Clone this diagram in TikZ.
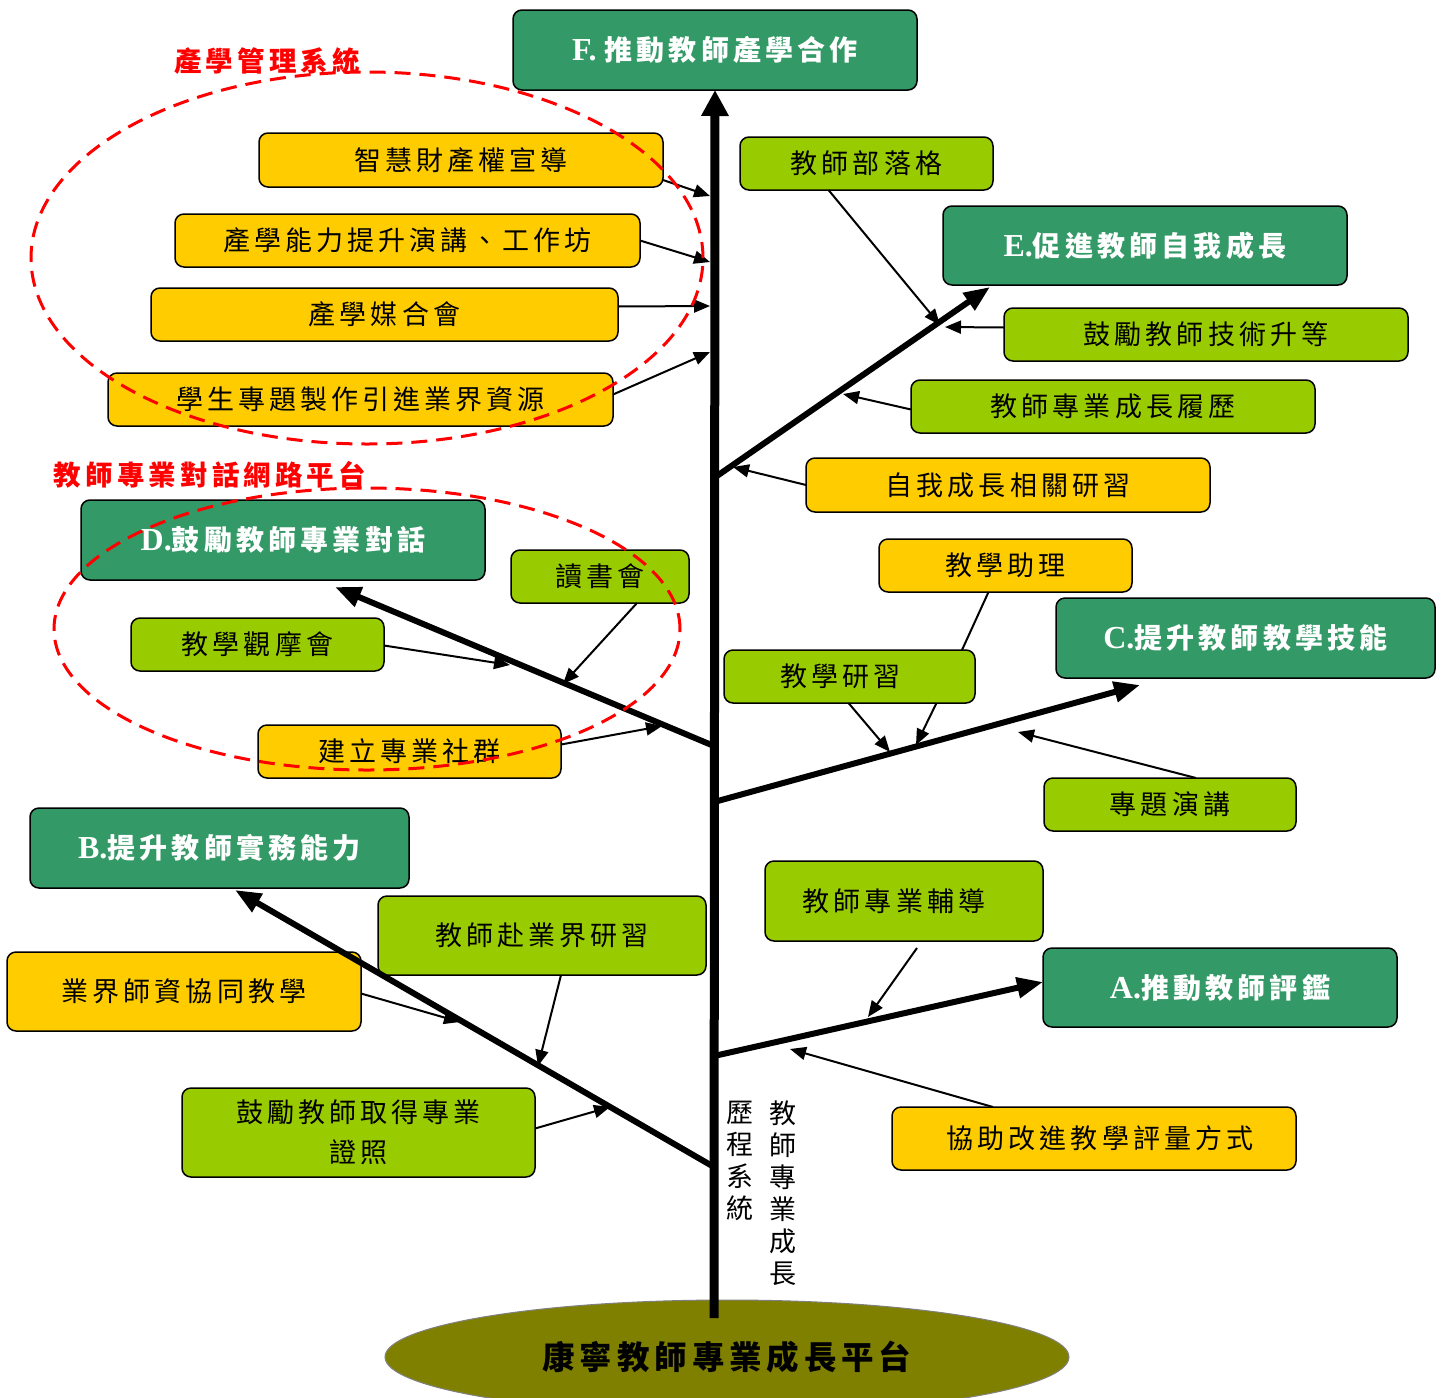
\documentclass[tikz,border=0pt]{standalone}
\usepackage{fontspec}
\setmainfont{Liberation Serif}
\newfontfamily\cjk[LetterSpace=15]{Noto Sans CJK TC}
\newfontfamily\cjkv{Noto Sans CJK TC}
\usetikzlibrary{arrows.meta,shapes.geometric}
\definecolor{dgreen}{RGB}{51,153,102}
\definecolor{lgreen}{RGB}{153,204,0}
\definecolor{cyellow}{RGB}{255,204,0}
\definecolor{olivec}{RGB}{128,128,0}
\definecolor{cred}{RGB}{255,0,0}
\newcommand{\lat}[1]{{\rmfamily\bfseries\fontsize{32}{32}\selectfont #1}}
\tikzset{
  box/.style={draw=black, line width=1.5pt, rounded corners=9pt, inner sep=0pt, outer sep=0pt,
    align=center, font=\cjk\fontsize{27}{40}\selectfont},
  ybox/.style={box, fill=cyellow},
  gbox/.style={box, fill=lgreen},
  tbox/.style={box, fill=dgreen, text=white, font=\cjk\bfseries\fontsize{28}{32}\selectfont},
  sz/.style 2 args={minimum width=#1pt, minimum height=#2pt},
  trunk/.style={line width=9pt, -{Triangle[length=26pt,width=26pt]}},
  branch/.style={line width=6pt, -{Triangle[length=26pt,width=20pt]}},
  thin/.style={line width=2pt, -{Triangle[length=16pt,width=13pt]}},
  plain/.style={line width=2pt},
  redash/.style={draw=cred, line width=3pt, dash pattern=on 16pt off 9pt},
  redlabel/.style={text=cred, font=\cjk\bfseries\fontsize{27.5}{30}\selectfont, inner sep=0pt},
  vtext/.style={align=center, inner sep=0pt, font=\cjkv\fontsize{27}{32}\selectfont},
}
\begin{document}
\begin{tikzpicture}[x=1pt,y=-1pt]
\useasboundingbox (0,0) rectangle (1444,1398);

% platform
\node[ellipse, draw=gray, fill=olivec, line width=1pt, minimum width=684pt, minimum height=114pt,
  inner sep=0pt, font=\cjk\bfseries\fontsize{32.5}{34}\selectfont] (plat) at (727,1357) {康寧教師專業成長平台};

% boxes
\node[tbox, sz={404}{80}] (F) at (715,50) {\lat{F. }推動教師產學合作};
\node[ybox, sz={404}{54}] (ip) at (461,160) {智慧財產權宣導};
\node[ybox, sz={465}{53}] (cap) at (407.5,240.5) {產學能力提升演講、工作坊};
\node[ybox, sz={467}{53}] (mh) at (384.5,314.5) {產學媒合會};
\node[ybox, sz={505}{53}] (stu) at (360.5,399.5) {學生專題製作引進業界資源};
\node[gbox, sz={253}{53}] (blog) at (866.5,163.5) {教師部落格};
\node[tbox, sz={404}{79}] (E) at (1145,245.5) {\lat{E.}促進教師自我成長};
\node[gbox, sz={404}{53}] (prom) at (1206,334.5) {鼓勵教師技術升等};
\node[gbox, sz={404}{53}] (cv) at (1113,406.5) {教師專業成長履歷};
\node[ybox, sz={404}{54}] (self) at (1008,485) {自我成長相關研習};
\node[ybox, sz={253}{53}] (ta) at (1005.5,565.5) {教學助理};
\node[tbox, sz={379}{80}] (C) at (1245.5,638) {\lat{C.}提升教師教學技能};
\node[gbox, sz={251}{53}] (tw) at (849.5,676.5) {\hspace*{-18pt}教學研習};
\node[gbox, sz={252}{53}] (talk) at (1170,804.5) {專題演講};
\node[tbox, sz={404}{80}] (D) at (283,540) {\lat{D.}鼓勵教師專業對話};
\node[gbox, sz={178}{53}] (book) at (600,576.5) {讀書會};
\node[gbox, sz={253}{53}] (obs) at (257.5,644.5) {教學觀摩會};
\node[ybox, sz={303}{53}] (comm) at (409.5,751.5) {建立專業社群};
\node[tbox, sz={379}{80}] (B) at (219.5,848) {\lat{B.}提升教師實務能力};
\node[gbox, sz={328}{79}] (ind) at (542,935.5) {教師赴業界研習};
\node[ybox, sz={354}{79}] (co) at (184,991.5) {業界師資協同教學};
\node[gbox, sz={353}{89}] (lic) at (358.5,1132.5) {鼓勵教師取得專業\\證照};
\node[gbox, sz={278}{80}] (men) at (904,901) {\hspace*{-20pt}教師專業輔導};
\node[tbox, sz={354}{79}] (A) at (1220,987.5) {\lat{A.}推動教師評鑑};
\node[ybox, sz={404}{63}] (eval) at (1094,1138.5) {\hspace*{12pt}協助改進教學評量方式};

% vertical text
\node[vtext] (v1) at (783,1193) {教\\師\\專\\業\\成\\長};
\node[vtext] (v2) at (740,1161) {歷\\程\\系\\統};

% trunk and branches
\coordinate (root) at (714,1318);
\coordinate (jE) at (714,478);
\coordinate (jD) at (714,746);
\coordinate (jC) at (714,802);
\coordinate (jA) at (714,1056);
\coordinate (jB) at (714,1167);
\coordinate (tipE) at (990,287);
\coordinate (tipD) at (335,587);
\coordinate (tipC) at (1140,685);
\coordinate (tipA) at (1043,982);
\coordinate (tipB) at (235,890);

\draw[trunk] (root) -- (F.south);
\draw[branch] (jE) -- (tipE);
\draw[branch] (jD) -- (tipD);
\draw[branch] (jC) -- (tipC);
\draw[branch] (jA) -- (tipA);
\draw[branch] (jB) -- (tipB);

% targets
\coordinate (t1) at (710,196);
\coordinate (t2) at (710,262);
\coordinate (t3) at (710,306);
\coordinate (t4) at (710,352);
\coordinate (e1) at (940,325);
\coordinate (e2) at (945,327);
\coordinate (e3) at (843,394);
\coordinate (e4) at (733,467);
\coordinate (c1) at (890,752);
\coordinate (c2) at (916,745);
\coordinate (c3) at (1018,732);
\coordinate (d1) at (563,684);
\coordinate (d2) at (510,665);
\coordinate (d3) at (662,726);
\coordinate (b1) at (538,1066);
\coordinate (b2) at (460,1022);
\coordinate (b3) at (610,1107);
\coordinate (a1) at (868,1017);
\coordinate (a2) at (790,1049);

\draw[thin] ([yshift=-20pt]ip.east) -- (t1);
\draw[thin] (cap.east) -- (t2);
\draw[thin] ([yshift=8pt]mh.east) -- (t3);
\draw[thin] ([yshift=5pt]stu.east) -- (t4);

\draw[thin] ([xshift=-38pt]blog.south) -- (e1);
\draw[thin] ([yshift=7pt]prom.west) -- (e2);
\draw[thin] ([yshift=-3pt]cv.west) -- (e3);
\draw[thin] (self.west) -- (e4);

\draw[plain] ([xshift=-17pt]ta.south) -- ([xshift=-13pt]tw.north east);
\draw[thin] ([xshift=-1pt]tw.south) -- (c1);
\draw[thin] ([xshift=87pt]tw.south) -- (c2);
\draw[thin] ([xshift=26pt]talk.north) -- (c3);

\draw[thin] ([xshift=37pt]book.south) -- (d1);
\draw[thin] ([yshift=-1pt]obs.east) -- (d2);
\draw[thin] ([yshift=7pt]comm.east) -- (d3);

\draw[thin] ([xshift=19pt]ind.south) -- (b1);
\draw[thin] ([yshift=-2pt]co.east) -- (b2);
\draw[thin] ([yshift=4pt]lic.east) -- (b3);

\draw[thin] ([xshift=13pt,yshift=-7pt]men.south) -- (a1);
\draw[thin] ([xshift=-101pt]eval.north) -- (a2);

% red dashed groups
\draw[redash] (367,258) ellipse [x radius=336pt, y radius=186pt];
\draw[redash] (367,629) ellipse [x radius=313pt, y radius=141pt];
\node[redlabel] (lab1) at (267,61) {產學管理系統};
\node[redlabel] (lab2) at (210,475) {教師專業對話網路平台};
\end{tikzpicture}
\end{document}
